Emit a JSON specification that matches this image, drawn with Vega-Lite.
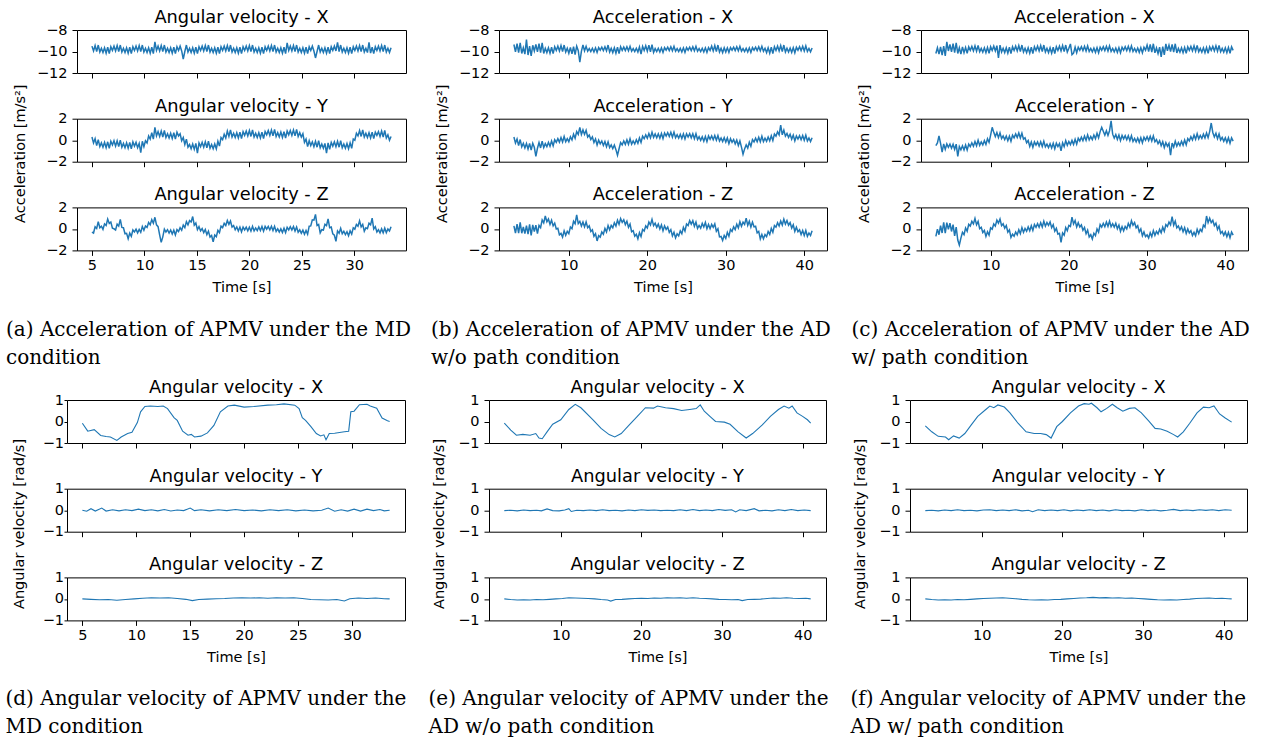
{
  "$schema": "https://vega.github.io/schema/vega-lite/v6.json",
  "background": "white",
  "padding": {"left": 5, "top": 8, "right": 5, "bottom": 2},
  "columns": 1,
  "align": "none",
  "spacing": 10,
  "concat": [
    {
      "spacing": 20,
      "hconcat": [
        {
          "bounds": "flush",
          "spacing": 0,
          "hconcat": [
            {"width": 10, "height": 10, "view": {"stroke": null}, "data": {"values": [{}]}, "mark": {"type": "text", "text": ""}},
            {
              "title": {"text": ["(a) Acceleration of APMV under the MD", "condition"], "orient": "bottom", "anchor": "start", "frame": "group", "dx": -71, "offset": 41, "baseline": "alphabetic", "align": "left", "font": "DejaVu Serif", "fontSize": 20, "lineHeight": 28},
              "bounds": "flush",
              "spacing": 45.7,
              "vconcat": [
                {"width": 329, "height": 43, "title": "Angular velocity - X", "data": {"name": "acc_a"}, "mark": {"type": "line", "strokeWidth": 1.5},
                 "encoding": {"x": {"field": "t", "type": "quantitative", "scale": {"domain": [3.575, 34.925], "nice": false, "zero": false}, "axis": {"values": [5, 10, 15, 20, 25, 30], "labels": false, "title": null}},
                              "y": {"field": "x", "type": "quantitative", "scale": {"domain": [-12, -8], "nice": false, "zero": false}, "axis": {"values": [-12, -10, -8], "title": "Acceleration [m/s²]", "titleX": -52.5, "titleY": 123.2}}}},
                {"width": 329, "height": 43, "title": "Angular velocity - Y", "data": {"name": "acc_a"}, "mark": {"type": "line", "strokeWidth": 1.5},
                 "encoding": {"x": {"field": "t", "type": "quantitative", "scale": {"domain": [3.575, 34.925], "nice": false, "zero": false}, "axis": {"values": [5, 10, 15, 20, 25, 30], "labels": false, "title": null}},
                              "y": {"field": "y", "type": "quantitative", "scale": {"domain": [-2, 2], "nice": false, "zero": false}, "axis": {"values": [-2, 0, 2], "title": null}}}},
                {"width": 329, "height": 43, "title": "Angular velocity - Z", "data": {"name": "acc_a"}, "mark": {"type": "line", "strokeWidth": 1.5},
                 "encoding": {"x": {"field": "t", "type": "quantitative", "scale": {"domain": [3.575, 34.925], "nice": false, "zero": false}, "axis": {"values": [5, 10, 15, 20, 25, 30], "title": "Time [s]"}},
                              "y": {"field": "z", "type": "quantitative", "scale": {"domain": [-2, 2], "nice": false, "zero": false}, "axis": {"values": [-2, 0, 2], "title": null}}}}
              ]
            }
          ]
        },
        {
          "title": {"text": ["(b) Acceleration of APMV under the AD", "w/o path condition"], "orient": "bottom", "anchor": "start", "frame": "group", "dx": -68, "offset": 41, "baseline": "alphabetic", "align": "left", "font": "DejaVu Serif", "fontSize": 20, "lineHeight": 28},
          "bounds": "flush",
          "spacing": 45.7,
          "vconcat": [
            {"width": 328, "height": 43, "title": "Acceleration - X", "data": {"name": "acc_b"}, "mark": {"type": "line", "strokeWidth": 1.5},
             "encoding": {"x": {"field": "t", "type": "quantitative", "scale": {"domain": [1.1, 42.9], "nice": false, "zero": false}, "axis": {"values": [10, 20, 30, 40], "labels": false, "title": null}},
                          "y": {"field": "x", "type": "quantitative", "scale": {"domain": [-12, -8], "nice": false, "zero": false}, "axis": {"values": [-12, -10, -8], "title": "Acceleration [m/s²]", "titleX": -53, "titleY": 123.2}}}},
            {"width": 328, "height": 43, "title": "Acceleration - Y", "data": {"name": "acc_b"}, "mark": {"type": "line", "strokeWidth": 1.5},
             "encoding": {"x": {"field": "t", "type": "quantitative", "scale": {"domain": [1.1, 42.9], "nice": false, "zero": false}, "axis": {"values": [10, 20, 30, 40], "labels": false, "title": null}},
                          "y": {"field": "y", "type": "quantitative", "scale": {"domain": [-2, 2], "nice": false, "zero": false}, "axis": {"values": [-2, 0, 2], "title": null}}}},
            {"width": 328, "height": 43, "title": "Acceleration - Z", "data": {"name": "acc_b"}, "mark": {"type": "line", "strokeWidth": 1.5},
             "encoding": {"x": {"field": "t", "type": "quantitative", "scale": {"domain": [1.1, 42.9], "nice": false, "zero": false}, "axis": {"values": [10, 20, 30, 40], "title": "Time [s]"}},
                          "y": {"field": "z", "type": "quantitative", "scale": {"domain": [-2, 2], "nice": false, "zero": false}, "axis": {"values": [-2, 0, 2], "title": null}}}}
          ]
        },
        {
          "title": {"text": ["(c) Acceleration of APMV under the AD", "w/ path condition"], "orient": "bottom", "anchor": "start", "frame": "group", "dx": -69.5, "offset": 41, "baseline": "alphabetic", "align": "left", "font": "DejaVu Serif", "fontSize": 20, "lineHeight": 28},
          "bounds": "flush",
          "spacing": 45.7,
          "vconcat": [
            {"width": 327, "height": 43, "title": "Acceleration - X", "data": {"name": "acc_c"}, "mark": {"type": "line", "strokeWidth": 1.5},
             "encoding": {"x": {"field": "t", "type": "quantitative", "scale": {"domain": [1.1, 42.9], "nice": false, "zero": false}, "axis": {"values": [10, 20, 30, 40], "labels": false, "title": null}},
                          "y": {"field": "x", "type": "quantitative", "scale": {"domain": [-12, -8], "nice": false, "zero": false}, "axis": {"values": [-12, -10, -8], "title": "Acceleration [m/s²]", "titleX": -53, "titleY": 123.2}}}},
            {"width": 327, "height": 43, "title": "Acceleration - Y", "data": {"name": "acc_c"}, "mark": {"type": "line", "strokeWidth": 1.5},
             "encoding": {"x": {"field": "t", "type": "quantitative", "scale": {"domain": [1.1, 42.9], "nice": false, "zero": false}, "axis": {"values": [10, 20, 30, 40], "labels": false, "title": null}},
                          "y": {"field": "y", "type": "quantitative", "scale": {"domain": [-2, 2], "nice": false, "zero": false}, "axis": {"values": [-2, 0, 2], "title": null}}}},
            {"width": 327, "height": 43, "title": "Acceleration - Z", "data": {"name": "acc_c"}, "mark": {"type": "line", "strokeWidth": 1.5},
             "encoding": {"x": {"field": "t", "type": "quantitative", "scale": {"domain": [1.1, 42.9], "nice": false, "zero": false}, "axis": {"values": [10, 20, 30, 40], "title": "Time [s]"}},
                          "y": {"field": "z", "type": "quantitative", "scale": {"domain": [-2, 2], "nice": false, "zero": false}, "axis": {"values": [-2, 0, 2], "title": null}}}}
          ]
        }
      ]
    },
    {
      "spacing": 21,
      "hconcat": [
        {
          "title": {"text": ["(d) Angular velocity of APMV under the", "MD condition"], "orient": "bottom", "anchor": "start", "frame": "group", "dx": -61.5, "offset": 40, "baseline": "alphabetic", "align": "left", "font": "DejaVu Serif", "fontSize": 20, "lineHeight": 28},
          "bounds": "flush",
          "spacing": 45.7,
          "vconcat": [
            {"width": 338, "height": 43, "title": "Angular velocity - X", "data": {"name": "d_x"}, "mark": {"type": "line", "strokeWidth": 1.1},
             "encoding": {"x": {"field": "t", "type": "quantitative", "scale": {"domain": [3.575, 34.925], "nice": false, "zero": false}, "axis": {"values": [5, 10, 15, 20, 25, 30], "labels": false, "title": null}},
                          "y": {"field": "v", "type": "quantitative", "scale": {"domain": [-1, 1], "nice": false, "zero": false}, "axis": {"values": [-1, 0, 1], "title": "Angular velocity [rad/s]", "titleX": -43.3, "titleY": 123.5, "tickSize": 3, "labelPadding": 0.5}}}},
            {"width": 338, "height": 43, "title": "Angular velocity - Y", "data": {"name": "d_y"}, "mark": {"type": "line", "strokeWidth": 1.1},
             "encoding": {"x": {"field": "t", "type": "quantitative", "scale": {"domain": [3.575, 34.925], "nice": false, "zero": false}, "axis": {"values": [5, 10, 15, 20, 25, 30], "labels": false, "title": null}},
                          "y": {"field": "v", "type": "quantitative", "scale": {"domain": [-1, 1], "nice": false, "zero": false}, "axis": {"values": [-1, 0, 1], "title": null, "tickSize": 3, "labelPadding": 0.5}}}},
            {"width": 338, "height": 43, "title": "Angular velocity - Z", "data": {"name": "d_z"}, "mark": {"type": "line", "strokeWidth": 1.1},
             "encoding": {"x": {"field": "t", "type": "quantitative", "scale": {"domain": [3.575, 34.925], "nice": false, "zero": false}, "axis": {"values": [5, 10, 15, 20, 25, 30], "title": "Time [s]"}},
                          "y": {"field": "v", "type": "quantitative", "scale": {"domain": [-1, 1], "nice": false, "zero": false}, "axis": {"values": [-1, 0, 1], "title": null, "tickSize": 3, "labelPadding": 0.5}}}}
          ]
        },
        {
          "title": {"text": ["(e) Angular velocity of APMV under the", "AD w/o path condition"], "orient": "bottom", "anchor": "start", "frame": "group", "dx": -60.5, "offset": 40, "baseline": "alphabetic", "align": "left", "font": "DejaVu Serif", "fontSize": 20, "lineHeight": 28},
          "bounds": "flush",
          "spacing": 45.7,
          "vconcat": [
            {"width": 337, "height": 43, "title": "Angular velocity - X", "data": {"name": "e_x"}, "mark": {"type": "line", "strokeWidth": 1.1},
             "encoding": {"x": {"field": "t", "type": "quantitative", "scale": {"domain": [1.1, 42.9], "nice": false, "zero": false}, "axis": {"values": [10, 20, 30, 40], "labels": false, "title": null}},
                          "y": {"field": "v", "type": "quantitative", "scale": {"domain": [-1, 1], "nice": false, "zero": false}, "axis": {"values": [-1, 0, 1], "title": "Angular velocity [rad/s]", "titleX": -45.7, "titleY": 123.5}}}},
            {"width": 337, "height": 43, "title": "Angular velocity - Y", "data": {"name": "e_y"}, "mark": {"type": "line", "strokeWidth": 1.1},
             "encoding": {"x": {"field": "t", "type": "quantitative", "scale": {"domain": [1.1, 42.9], "nice": false, "zero": false}, "axis": {"values": [10, 20, 30, 40], "labels": false, "title": null}},
                          "y": {"field": "v", "type": "quantitative", "scale": {"domain": [-1, 1], "nice": false, "zero": false}, "axis": {"values": [-1, 0, 1], "title": null}}}},
            {"width": 337, "height": 43, "title": "Angular velocity - Z", "data": {"name": "e_z"}, "mark": {"type": "line", "strokeWidth": 1.1},
             "encoding": {"x": {"field": "t", "type": "quantitative", "scale": {"domain": [1.1, 42.9], "nice": false, "zero": false}, "axis": {"values": [10, 20, 30, 40], "title": "Time [s]"}},
                          "y": {"field": "v", "type": "quantitative", "scale": {"domain": [-1, 1], "nice": false, "zero": false}, "axis": {"values": [-1, 0, 1], "title": null}}}}
          ]
        },
        {
          "title": {"text": ["(f) Angular velocity of APMV under the", "AD w/ path condition"], "orient": "bottom", "anchor": "start", "frame": "group", "dx": -59.5, "offset": 40, "baseline": "alphabetic", "align": "left", "font": "DejaVu Serif", "fontSize": 20, "lineHeight": 28},
          "bounds": "flush",
          "spacing": 45.7,
          "vconcat": [
            {"width": 337, "height": 43, "title": "Angular velocity - X", "data": {"name": "f_x"}, "mark": {"type": "line", "strokeWidth": 1.1},
             "encoding": {"x": {"field": "t", "type": "quantitative", "scale": {"domain": [1.1, 42.9], "nice": false, "zero": false}, "axis": {"values": [10, 20, 30, 40], "labels": false, "title": null}},
                          "y": {"field": "v", "type": "quantitative", "scale": {"domain": [-1, 1], "nice": false, "zero": false}, "axis": {"values": [-1, 0, 1], "title": "Angular velocity [rad/s]", "titleX": -45.3, "titleY": 123.5}}}},
            {"width": 337, "height": 43, "title": "Angular velocity - Y", "data": {"name": "f_y"}, "mark": {"type": "line", "strokeWidth": 1.1},
             "encoding": {"x": {"field": "t", "type": "quantitative", "scale": {"domain": [1.1, 42.9], "nice": false, "zero": false}, "axis": {"values": [10, 20, 30, 40], "labels": false, "title": null}},
                          "y": {"field": "v", "type": "quantitative", "scale": {"domain": [-1, 1], "nice": false, "zero": false}, "axis": {"values": [-1, 0, 1], "title": null}}}},
            {"width": 337, "height": 43, "title": "Angular velocity - Z", "data": {"name": "f_z"}, "mark": {"type": "line", "strokeWidth": 1.1},
             "encoding": {"x": {"field": "t", "type": "quantitative", "scale": {"domain": [1.1, 42.9], "nice": false, "zero": false}, "axis": {"values": [10, 20, 30, 40], "title": "Time [s]"}},
                          "y": {"field": "v", "type": "quantitative", "scale": {"domain": [-1, 1], "nice": false, "zero": false}, "axis": {"values": [-1, 0, 1], "title": null}}}}
          ]
        }
      ]
    }
  ],
  "datasets": {
    "acc_a": [
      {"t":5,"x":-9.5,"y":0.3,"z":-0.29},{"t":5.15,"x":-9.95,"y":-0.25,"z":-0.38},{"t":5.3,"x":-9.45,"y":0.15,"z":0.2},{"t":5.45,"x":-10,"y":-0.5,"z":0.04},{"t":5.6,"x":-9.4,"y":0.05,"z":0.68},{"t":5.75,"x":-10.05,"y":-0.6,"z":0.11},{"t":5.9,"x":-9.7,"y":-0.25,"z":0.25},{"t":6.05,"x":-10.1,"y":-0.65,"z":-0.04},{"t":6.2,"x":-9.65,"y":-0.2,"z":0.47},{"t":6.35,"x":-10.15,"y":-0.7,"z":0.32},
      {"t":6.5,"x":-9.6,"y":-0.15,"z":0.91},{"t":6.65,"x":-10.2,"y":-0.75,"z":0.51},{"t":6.8,"x":-9.55,"y":-0.1,"z":0.64},{"t":6.95,"x":-9.9,"y":-0.45,"z":0.06},{"t":7.1,"x":-9.5,"y":-0.05,"z":0.01},{"t":7.25,"x":-9.95,"y":-0.55,"z":-0.1},{"t":7.4,"x":-9.45,"y":-0.05,"z":0.45},{"t":7.55,"x":-10,"y":-0.6,"z":0.26},{"t":7.7,"x":-9.4,"y":0,"z":0.88},{"t":7.85,"x":-10.05,"y":-0.65,"z":0.14},
      {"t":8,"x":-9.7,"y":-0.3,"z":0.11},{"t":8.15,"x":-10.1,"y":-0.7,"z":-0.45},{"t":8.3,"x":-9.65,"y":-0.25,"z":-0.41},{"t":8.45,"x":-10.15,"y":-0.75,"z":-0.91},{"t":8.6,"x":-9.6,"y":-0.2,"z":-0.39},{"t":8.75,"x":-10.2,"y":-0.8,"z":-0.69},{"t":8.9,"x":-9.55,"y":-0.15,"z":-0.1},{"t":9.05,"x":-9.9,"y":-0.55,"z":-0.28},{"t":9.2,"x":-9.5,"y":-0.2,"z":-0.03},{"t":9.35,"x":-9.95,"y":-0.7,"z":-0.37},
      {"t":9.5,"x":-9.45,"y":-0.3,"z":-0.05},{"t":9.65,"x":-10,"y":-1.15,"z":-0.32},{"t":9.8,"x":-9.4,"y":-0.1,"z":0.22},{"t":9.95,"x":-10.05,"y":-0.6,"z":-0.12},{"t":10.1,"x":-9.7,"y":-0.05,"z":0.27},{"t":10.25,"x":-10.1,"y":-0.25,"z":0.14},{"t":10.4,"x":-9.65,"y":0.4,"z":0.6},{"t":10.55,"x":-10.15,"y":0.1,"z":0.38},{"t":10.7,"x":-9.6,"y":0.7,"z":0.86},{"t":10.85,"x":-10.2,"y":0.1,"z":0.53},
      {"t":11,"x":-9.1,"y":1.2,"z":1.08},{"t":11.15,"x":-9.9,"y":0.4,"z":0.38},{"t":11.3,"x":-9.5,"y":0.8,"z":0.21},{"t":11.45,"x":-9.95,"y":0.35,"z":-0.55},{"t":11.6,"x":-9.45,"y":0.85,"z":-1.25},{"t":11.75,"x":-10,"y":0.3,"z":-0.74},{"t":11.9,"x":-9.4,"y":0.9,"z":-0.02},{"t":12.05,"x":-10.05,"y":0.25,"z":-0.29},{"t":12.2,"x":-9.7,"y":0.6,"z":-0.07},{"t":12.35,"x":-10.1,"y":0.2,"z":-0.38},
      {"t":12.5,"x":-9.65,"y":0.65,"z":-0.1},{"t":12.65,"x":-10.15,"y":0.15,"z":-0.48},{"t":12.8,"x":-9.6,"y":0.7,"z":-0.12},{"t":12.95,"x":-10.2,"y":0.1,"z":-0.57},{"t":13.1,"x":-9.55,"y":0.75,"z":-0.07},{"t":13.25,"x":-9.9,"y":0.4,"z":-0.25},{"t":13.4,"x":-9.5,"y":0.6,"z":0.11},{"t":13.55,"x":-9.95,"y":-0.05,"z":-0.13},{"t":13.7,"x":-10.7,"y":0.25,"z":0.35},{"t":13.85,"x":-10,"y":-0.4,"z":0.11},
      {"t":14,"x":-9.4,"y":0.1,"z":0.68},{"t":14.15,"x":-10.05,"y":-0.65,"z":0.37},{"t":14.3,"x":-9.7,"y":-0.4,"z":0.77},{"t":14.45,"x":-10.1,"y":-0.8,"z":0.64},{"t":14.6,"x":-9.65,"y":-0.35,"z":1.15},{"t":14.75,"x":-10.15,"y":-0.85,"z":0.34},{"t":14.9,"x":-9.6,"y":-0.3,"z":0.54},{"t":15.05,"x":-10.2,"y":-1.2,"z":-0.07},{"t":15.2,"x":-9.55,"y":-0.25,"z":0.21},{"t":15.35,"x":-9.9,"y":-0.6,"z":-0.19},
      {"t":15.5,"x":-9.5,"y":-0.2,"z":0.03},{"t":15.65,"x":-9.95,"y":-0.65,"z":-0.34},{"t":15.8,"x":-9.45,"y":-0.15,"z":-0.05},{"t":15.95,"x":-10,"y":-0.7,"z":-0.53},{"t":16.1,"x":-9.4,"y":-0.1,"z":-0.21},{"t":16.25,"x":-10.05,"y":-0.75,"z":-0.76},{"t":16.4,"x":-9.7,"y":-0.4,"z":-0.61},{"t":16.55,"x":-10.1,"y":-0.8,"z":-1.2},{"t":16.7,"x":-9.65,"y":-0.35,"z":-0.57},{"t":16.85,"x":-10.15,"y":-0.8,"z":-0.72},
      {"t":17,"x":-9.6,"y":-0.1,"z":-0.13},{"t":17.15,"x":-10.2,"y":-0.55,"z":-0.35},{"t":17.3,"x":-9.55,"y":0.25,"z":0.26},{"t":17.45,"x":-9.9,"y":0.05,"z":0.12},{"t":17.6,"x":-9.5,"y":0.55,"z":0.51},{"t":17.75,"x":-9.95,"y":0.2,"z":0.31},{"t":17.9,"x":-9.45,"y":0.85,"z":0.78},{"t":18.05,"x":-10,"y":0.35,"z":0.42},{"t":18.2,"x":-9.4,"y":0.95,"z":0.74},{"t":18.35,"x":-10.05,"y":0.3,"z":0.17},
      {"t":18.5,"x":-9.7,"y":0.65,"z":0.31},{"t":18.65,"x":-10.1,"y":0.25,"z":-0.07},{"t":18.8,"x":-9.65,"y":0.7,"z":0.18},{"t":18.95,"x":-10.15,"y":0.2,"z":-0.2},{"t":19.1,"x":-9.6,"y":0.75,"z":0.17},{"t":19.25,"x":-10.2,"y":0.15,"z":-0.27},{"t":19.4,"x":-9.55,"y":0.8,"z":0.17},{"t":19.55,"x":-9.9,"y":0.45,"z":-0.1},{"t":19.7,"x":-9.5,"y":0.85,"z":0.16},{"t":19.85,"x":-9.95,"y":0.4,"z":-0.18},
      {"t":20,"x":-9.45,"y":0.9,"z":0.15},{"t":20.15,"x":-10,"y":0.35,"z":-0.21},{"t":20.3,"x":-9.4,"y":0.95,"z":0.24},{"t":20.45,"x":-10.05,"y":0.3,"z":-0.19},{"t":20.6,"x":-9.7,"y":0.65,"z":0.09},{"t":20.75,"x":-10.1,"y":0.25,"z":-0.16},{"t":20.9,"x":-9.65,"y":0.7,"z":0.18},{"t":21.05,"x":-10.15,"y":0.2,"z":-0.15},{"t":21.2,"x":-9.6,"y":0.75,"z":0.22},{"t":21.35,"x":-10.2,"y":0.15,"z":-0.21},
      {"t":21.5,"x":-9.55,"y":0.8,"z":0.23},{"t":21.65,"x":-9.9,"y":0.5,"z":-0.03},{"t":21.8,"x":-9.5,"y":0.9,"z":0.23},{"t":21.95,"x":-9.95,"y":0.45,"z":-0.1},{"t":22.1,"x":-9.45,"y":0.95,"z":0.24},{"t":22.25,"x":-10,"y":0.4,"z":-0.16},{"t":22.4,"x":-9.4,"y":1,"z":0.24},{"t":22.55,"x":-10.05,"y":0.35,"z":-0.23},{"t":22.7,"x":-9.7,"y":0.7,"z":0},{"t":22.85,"x":-10.1,"y":0.3,"z":-0.3},
      {"t":23,"x":-9.65,"y":0.75,"z":0},{"t":23.15,"x":-10.15,"y":0.25,"z":-0.34},{"t":23.3,"x":-9.6,"y":0.8,"z":0.06},{"t":23.45,"x":-10.2,"y":0.2,"z":-0.34},{"t":23.6,"x":-9.2,"y":0.85,"z":0.14},{"t":23.75,"x":-9.9,"y":0.5,"z":-0.09},{"t":23.9,"x":-9.5,"y":0.9,"z":0.2},{"t":24.05,"x":-9.95,"y":0.45,"z":-0.1},{"t":24.2,"x":-9.45,"y":0.95,"z":0.22},{"t":24.35,"x":-10,"y":0.4,"z":-0.2},
      {"t":24.5,"x":-9.4,"y":1,"z":0.18},{"t":24.65,"x":-10.05,"y":0.35,"z":-0.31},{"t":24.8,"x":-9.7,"y":0.7,"z":-0.09},{"t":24.95,"x":-10.1,"y":0.3,"z":-0.4},{"t":25.1,"x":-9.65,"y":0.6,"z":-0.12},{"t":25.25,"x":-10.15,"y":-0.2,"z":-0.5},{"t":25.4,"x":-9.6,"y":0.1,"z":-0.14},{"t":25.55,"x":-10.2,"y":-0.6,"z":-0.49},{"t":25.7,"x":-9.55,"y":-0.05,"z":0.25},{"t":25.85,"x":-9.9,"y":-0.5,"z":0.28},
      {"t":26,"x":-9.5,"y":-0.15,"z":0.84},{"t":26.15,"x":-9.95,"y":-0.6,"z":0.81},{"t":26.3,"x":-10.6,"y":-0.1,"z":1.35},{"t":26.45,"x":-10,"y":-0.65,"z":0.32},{"t":26.6,"x":-9.4,"y":-0.05,"z":0.41},{"t":26.75,"x":-10.05,"y":-0.7,"z":-0.37},{"t":26.9,"x":-9.7,"y":-0.35,"z":-0.07},{"t":27.05,"x":-10.1,"y":-0.75,"z":-0.11},{"t":27.2,"x":-9.65,"y":-0.3,"z":0.43},{"t":27.35,"x":-10.15,"y":-1.2,"z":0.31},
      {"t":27.5,"x":-9.6,"y":-0.25,"z":0.94},{"t":27.65,"x":-10.2,"y":-0.85,"z":0.12},{"t":27.8,"x":-9.55,"y":-0.2,"z":0.18},{"t":27.95,"x":-9.9,"y":-0.55,"z":-0.47},{"t":28.1,"x":-9.5,"y":-0.15,"z":-0.59},{"t":28.25,"x":-9.95,"y":-0.6,"z":-1.15},{"t":28.4,"x":-9.15,"y":-0.1,"z":-0.19},{"t":28.55,"x":-10,"y":-0.65,"z":-0.4},{"t":28.7,"x":-9.4,"y":-0.05,"z":0.06},{"t":28.85,"x":-10.05,"y":-0.7,"z":-0.44},
      {"t":29,"x":-9.7,"y":-0.35,"z":-0.22},{"t":29.15,"x":-10.1,"y":-0.75,"z":-0.53},{"t":29.3,"x":-9.65,"y":-0.3,"z":-0.26},{"t":29.45,"x":-10.15,"y":-0.8,"z":-0.64},{"t":29.6,"x":-9.6,"y":-0.25,"z":-0.18},{"t":29.75,"x":-10.2,"y":-0.75,"z":-0.48},{"t":29.9,"x":-9.55,"y":0.1,"z":0.1},{"t":30.05,"x":-9.9,"y":0,"z":-0.02},{"t":30.2,"x":-9.5,"y":0.65,"z":0.41},{"t":30.35,"x":-9.95,"y":0.4,"z":0.25},
      {"t":30.5,"x":-9.45,"y":0.9,"z":0.75},{"t":30.65,"x":-10,"y":0.35,"z":0.18},{"t":30.8,"x":-9.4,"y":0.95,"z":0.42},{"t":30.95,"x":-10.05,"y":0.3,"z":-0.22},{"t":31.1,"x":-9.7,"y":0.65,"z":0.1},{"t":31.25,"x":-10.1,"y":0.25,"z":0.02},{"t":31.4,"x":-9.15,"y":0.7,"z":0.53},{"t":31.55,"x":-10.15,"y":0.2,"z":0.38},{"t":31.7,"x":-9.6,"y":0.75,"z":1},{"t":31.85,"x":-10.2,"y":0.15,"z":0},
      {"t":32,"x":-9.55,"y":0.75,"z":0.21},{"t":32.15,"x":-9.9,"y":0.45,"z":-0.29},{"t":32.3,"x":-9.5,"y":0.8,"z":-0.08},{"t":32.45,"x":-9.95,"y":0.35,"z":-0.37},{"t":32.6,"x":-9.45,"y":0.85,"z":0},{"t":32.75,"x":-10,"y":0.3,"z":-0.37},{"t":32.9,"x":-9.4,"y":0.9,"z":0.07},{"t":33.05,"x":-10.05,"y":0.2,"z":-0.35},{"t":33.2,"x":-9.7,"y":0.5,"z":-0.01},{"t":33.35,"x":-10.1,"y":0,"z":-0.2},
      {"t":33.5,"x":-9.65,"y":0.35,"z":0.2}
    ],
    "acc_b": [
      {"t":3,"x":-9.35,"y":0.3,"z":0.28},{"t":3.2,"x":-10.03,"y":-0.27,"z":-0.4},{"t":3.4,"x":-9.27,"y":0.11,"z":0.44},{"t":3.6,"x":-10.1,"y":-0.51,"z":-0.4},{"t":3.8,"x":-9.2,"y":0.06,"z":0.6},{"t":4,"x":-10.18,"y":-0.62,"z":-0.4},{"t":4.2,"x":-9.65,"y":-0.29,"z":0.18},{"t":4.4,"x":-10.25,"y":-0.72,"z":-0.44},{"t":4.6,"x":-8.9,"y":-0.3,"z":0.3},{"t":4.8,"x":-10.33,"y":-0.82,"z":-0.48},
      {"t":5,"x":-9.5,"y":-0.3,"z":0.42},{"t":5.2,"x":-10.4,"y":-0.92,"z":-0.6},{"t":5.4,"x":-9.42,"y":-0.29,"z":0.38},{"t":5.6,"x":-9.95,"y":-0.66,"z":-0.24},{"t":5.8,"x":-9.35,"y":-1.5,"z":0.34},{"t":6,"x":-10.03,"y":-0.75,"z":-0.44},{"t":6.2,"x":-9.27,"y":-0.21,"z":0.32},{"t":6.4,"x":-10.1,"y":-0.72,"z":0.12},{"t":6.6,"x":-9.2,"y":-0.08,"z":0.84},{"t":6.8,"x":-10.18,"y":-0.69,"z":0.56},
      {"t":7,"x":-9.7,"y":-0.32,"z":1.2},{"t":7.2,"x":-10.1,"y":-0.6,"z":0.66},{"t":7.4,"x":-9.65,"y":-0.2,"z":0.92},{"t":7.6,"x":-10.15,"y":-0.56,"z":0.42},{"t":7.8,"x":-9.6,"y":-0.08,"z":0.81},{"t":8,"x":-10.2,"y":-0.52,"z":0.28},{"t":8.2,"x":-9.55,"y":0.04,"z":0.54},{"t":8.4,"x":-9.9,"y":-0.2,"z":0},{"t":8.6,"x":-9.5,"y":0.15,"z":0.06},{"t":8.8,"x":-9.95,"y":-0.18,"z":-0.56},
      {"t":9,"x":-9.45,"y":0.25,"z":-0.42},{"t":9.2,"x":-10,"y":-0.17,"z":-0.76},{"t":9.4,"x":-9.4,"y":0.34,"z":-0.18},{"t":9.6,"x":-10.05,"y":-0.15,"z":-0.6},{"t":9.8,"x":-9.7,"y":0.15,"z":-0.22},{"t":10,"x":-10.16,"y":-0.14,"z":-0.44},{"t":10.2,"x":-9.62,"y":0.32,"z":0.17},{"t":10.4,"x":-10.22,"y":0.02,"z":0.02},{"t":10.6,"x":-9.56,"y":0.56,"z":0.71},{"t":10.8,"x":-10.28,"y":0.18,"z":0.48},
      {"t":11,"x":-9.5,"y":0.8,"z":1.3},{"t":11.2,"x":-9.92,"y":0.54,"z":0.49},{"t":11.4,"x":-11,"y":1.2,"z":0.7},{"t":11.6,"x":-9.98,"y":0.54,"z":0.27},{"t":11.8,"x":-9.38,"y":0.96,"z":0.65},{"t":12,"x":-9.94,"y":0.54,"z":0.19},{"t":12.2,"x":-9.52,"y":0.92,"z":0.65},{"t":12.4,"x":-9.98,"y":0.3,"z":0.11},{"t":12.6,"x":-9.73,"y":0.48,"z":0.28},{"t":12.8,"x":-10.01,"y":0.06,"z":-0.24},
      {"t":13,"x":-9.7,"y":0.31,"z":-0.08},{"t":13.2,"x":-10.05,"y":-0.21,"z":-0.68},{"t":13.4,"x":-9.66,"y":0.12,"z":-0.44},{"t":13.6,"x":-10.08,"y":-0.45,"z":-1.12},{"t":13.8,"x":-9.63,"y":0.01,"z":-0.63},{"t":14,"x":-9.87,"y":-0.33,"z":-0.76},{"t":14.2,"x":-9.59,"y":-0.07,"z":-0.29},{"t":14.4,"x":-9.91,"y":-0.49,"z":-0.5},{"t":14.6,"x":-9.56,"y":-0.13,"z":0.04},{"t":14.8,"x":-9.94,"y":-0.6,"z":-0.28},
      {"t":15,"x":-9.4,"y":-0.15,"z":0.32},{"t":15.2,"x":-10.05,"y":-0.69,"z":-0.08},{"t":15.4,"x":-9.7,"y":-0.44,"z":0.32},{"t":15.6,"x":-10.1,"y":-0.79,"z":0.11},{"t":15.8,"x":-9.65,"y":-0.45,"z":0.57},{"t":16,"x":-10.15,"y":-0.88,"z":0.27},{"t":16.2,"x":-9.6,"y":-1.4,"z":0.81},{"t":16.4,"x":-10.2,"y":-0.8,"z":0.43},{"t":16.6,"x":-9.55,"y":-0.22,"z":0.96},{"t":16.8,"x":-9.9,"y":-0.44,"z":0.6},
      {"t":17,"x":-9.59,"y":-0.06,"z":0.84},{"t":17.2,"x":-9.91,"y":-0.39,"z":0.4},{"t":17.4,"x":-9.56,"y":0.03,"z":0.72},{"t":17.6,"x":-9.94,"y":-0.38,"z":0.15},{"t":17.8,"x":-9.52,"y":0.13,"z":0.45},{"t":18,"x":-9.98,"y":-0.37,"z":-0.26},{"t":18.2,"x":-9.73,"y":-0.06,"z":-0.16},{"t":18.4,"x":-10.01,"y":-0.35,"z":-0.67},{"t":18.6,"x":-9.7,"y":0.05,"z":-0.49},{"t":18.8,"x":-10.05,"y":-0.29,"z":-0.92},
      {"t":19,"x":-9.58,"y":0.21,"z":-0.35},{"t":19.2,"x":-10.24,"y":-0.21,"z":-0.71},{"t":19.4,"x":-9.52,"y":0.37,"z":-0.06},{"t":19.6,"x":-9.91,"y":0.14,"z":-0.2},{"t":19.8,"x":-9.47,"y":0.5,"z":0.28},{"t":20,"x":-9.97,"y":0.18,"z":0.08},{"t":20.2,"x":-9.41,"y":0.62,"z":0.64},{"t":20.4,"x":-10.02,"y":0.22,"z":0.36},{"t":20.6,"x":-9.36,"y":0.74,"z":0.89},{"t":20.8,"x":-10.08,"y":0.26,"z":0.31},
      {"t":21,"x":-9.73,"y":0.58,"z":0.53},{"t":21.2,"x":-10.01,"y":0.23,"z":0.15},{"t":21.4,"x":-9.7,"y":0.59,"z":0.45},{"t":21.6,"x":-10.05,"y":0.19,"z":-0.01},{"t":21.8,"x":-9.66,"y":0.63,"z":0.37},{"t":22,"x":-10.08,"y":0.15,"z":-0.17},{"t":22.2,"x":-9.63,"y":0.67,"z":0.29},{"t":22.4,"x":-9.87,"y":0.39,"z":-0.05},{"t":22.6,"x":-9.59,"y":0.71,"z":0.17},{"t":22.8,"x":-9.91,"y":0.35,"z":-0.33},
      {"t":23,"x":-9.56,"y":0.73,"z":-0.07},{"t":23.2,"x":-9.94,"y":0.27,"z":-0.65},{"t":23.4,"x":-9.52,"y":0.75,"z":-0.31},{"t":23.6,"x":-9.98,"y":0.23,"z":-0.84},{"t":23.8,"x":-9.73,"y":0.51,"z":-0.45},{"t":24,"x":-10.01,"y":0.19,"z":-0.65},{"t":24.2,"x":-9.7,"y":0.55,"z":-0.18},{"t":24.4,"x":-10.05,"y":0.15,"z":-0.44},{"t":24.6,"x":-9.66,"y":0.59,"z":0.14},{"t":24.8,"x":-10.08,"y":0.11,"z":-0.2},
      {"t":25,"x":-9.63,"y":0.6,"z":0.45},{"t":25.2,"x":-9.87,"y":0.3,"z":0.31},{"t":25.4,"x":-9.59,"y":0.6,"z":0.77},{"t":25.6,"x":-9.91,"y":0.22,"z":0.44},{"t":25.8,"x":-9.56,"y":0.6,"z":0.76},{"t":26,"x":-9.94,"y":0.14,"z":0.24},{"t":26.2,"x":-9.52,"y":0.6,"z":0.64},{"t":26.4,"x":-9.98,"y":0.06,"z":0.04},{"t":26.6,"x":-9.73,"y":0.32,"z":0.32},{"t":26.8,"x":-10.01,"y":-0.02,"z":0.07},
      {"t":27,"x":-9.7,"y":0.32,"z":0.51},{"t":27.2,"x":-10.05,"y":-0.09,"z":0.18},{"t":27.4,"x":-9.66,"y":0.35,"z":0.6},{"t":27.6,"x":-10.08,"y":-0.13,"z":0.01},{"t":27.8,"x":-9.63,"y":0.39,"z":0.41},{"t":28,"x":-9.9,"y":0.08,"z":0.02},{"t":28.2,"x":-9.5,"y":0.4,"z":0.42},{"t":28.4,"x":-9.95,"y":0.04,"z":0.14},{"t":28.6,"x":-9.45,"y":0.44,"z":0.46},{"t":28.8,"x":-10,"y":0,"z":-0.22},
      {"t":29,"x":-9.4,"y":0.44,"z":0.02},{"t":29.2,"x":-10.05,"y":-0.08,"z":-0.74},{"t":29.4,"x":-9.7,"y":0.2,"z":-0.7},{"t":29.6,"x":-10.1,"y":-0.12,"z":-1.08},{"t":29.8,"x":-9.65,"y":0.24,"z":-0.6},{"t":30,"x":-10.05,"y":-0.18,"z":-0.88},{"t":30.2,"x":-9.66,"y":0.21,"z":-0.32},{"t":30.4,"x":-10.08,"y":-0.32,"z":-0.68},{"t":30.6,"x":-9.63,"y":0.14,"z":-0.05},{"t":30.8,"x":-9.87,"y":-0.19,"z":-0.23},
      {"t":31,"x":-9.59,"y":0.07,"z":0.19},{"t":31.2,"x":-9.91,"y":-0.34,"z":-0.07},{"t":31.4,"x":-9.56,"y":0.01,"z":0.43},{"t":31.6,"x":-9.94,"y":-0.49,"z":0.09},{"t":31.8,"x":-9.52,"y":-0.07,"z":0.67},{"t":32,"x":-9.98,"y":-0.65,"z":0.25},{"t":32.2,"x":-9.73,"y":-1.3,"z":0.63},{"t":32.4,"x":-10.01,"y":-0.81,"z":0.41},{"t":32.6,"x":-9.7,"y":-0.43,"z":1},{"t":32.8,"x":-10.05,"y":-0.73,"z":0.33},
      {"t":33,"x":-9.66,"y":-0.19,"z":0.71},{"t":33.2,"x":-10.08,"y":-0.57,"z":0.17},{"t":33.4,"x":-9.63,"y":0.05,"z":0.63},{"t":33.6,"x":-9.87,"y":-0.17,"z":0.19},{"t":33.8,"x":-9.59,"y":0.18,"z":0.25},{"t":34,"x":-9.91,"y":-0.15,"z":-0.37},{"t":34.2,"x":-9.56,"y":0.27,"z":-0.23},{"t":34.4,"x":-9.94,"y":-0.14,"z":-0.93},{"t":34.6,"x":-9.52,"y":0.37,"z":-0.52},{"t":34.8,"x":-9.98,"y":-0.13,"z":-0.92},
      {"t":35,"x":-9.7,"y":0.18,"z":-0.52},{"t":35.2,"x":-10.1,"y":-0.1,"z":-0.72},{"t":35.4,"x":-9.65,"y":0.3,"z":-0.24},{"t":35.6,"x":-10.15,"y":-0.06,"z":-0.52},{"t":35.8,"x":-9.6,"y":0.42,"z":0.04},{"t":36,"x":-10.2,"y":-0.02,"z":-0.32},{"t":36.2,"x":-9.55,"y":0.58,"z":0.32},{"t":36.4,"x":-9.9,"y":0.38,"z":0.16},{"t":36.6,"x":-9.5,"y":0.78,"z":0.57},{"t":36.8,"x":-9.95,"y":0.5,"z":0.27},
      {"t":37,"x":-9.45,"y":1.4,"z":0.73},{"t":37.2,"x":-10,"y":0.5,"z":0.36},{"t":37.4,"x":-9.4,"y":0.94,"z":0.9},{"t":37.6,"x":-10.05,"y":0.38,"z":0.44},{"t":37.8,"x":-9.7,"y":0.62,"z":0.78},{"t":38,"x":-10.04,"y":0.26,"z":0.35},{"t":38.2,"x":-9.68,"y":0.56,"z":0.59},{"t":38.4,"x":-10.08,"y":0.1,"z":0.08},{"t":38.6,"x":-9.64,"y":0.48,"z":0.39},{"t":38.8,"x":-10.12,"y":-0.06,"z":-0.23},
      {"t":39,"x":-9.6,"y":0.4,"z":0.15},{"t":39.2,"x":-9.88,"y":0.11,"z":-0.27},{"t":39.4,"x":-9.56,"y":0.42,"z":-0.09},{"t":39.6,"x":-9.92,"y":0.05,"z":-0.53},{"t":39.8,"x":-9.52,"y":0.44,"z":-0.15},{"t":40,"x":-9.96,"y":-0.01,"z":-0.61},{"t":40.2,"x":-9.48,"y":0.46,"z":-0.15},{"t":40.4,"x":-10,"y":-0.07,"z":-0.69},{"t":40.6,"x":-9.72,"y":0.2,"z":-0.38},{"t":40.8,"x":-10.04,"y":-0.13,"z":-0.62},
      {"t":41,"x":-9.68,"y":0.22,"z":-0.18}
    ],
    "acc_c": [
      {"t":3,"x":-10.18,"y":-0.5,"z":-0.7},{"t":3.2,"x":-9.65,"y":-0.26,"z":-0.02},{"t":3.4,"x":-10.25,"y":0.4,"z":-0.54},{"t":3.6,"x":-9.57,"y":-0.3,"z":0.3},{"t":3.8,"x":-10.33,"y":-1.1,"z":-0.38},{"t":4,"x":-9.5,"y":-0.34,"z":0.62},{"t":4.2,"x":-10.4,"y":-0.85,"z":-0.4},{"t":4.4,"x":-9.1,"y":-0.35,"z":0.58},{"t":4.6,"x":-9.95,"y":-0.66,"z":-0.04},{"t":4.8,"x":-9.35,"y":-0.37,"z":0.54},
      {"t":5,"x":-10.03,"y":-0.75,"z":-0.24},{"t":5.2,"x":-9.27,"y":-0.38,"z":0.4},{"t":5.4,"x":-10.1,"y":-0.85,"z":-0.64},{"t":5.6,"x":-9.2,"y":-0.37,"z":0.16},{"t":5.8,"x":-10.18,"y":-1.5,"z":-1.04},{"t":6,"x":-9.65,"y":-0.59,"z":-1.5},{"t":6.2,"x":-10.25,"y":-0.9,"z":-0.86},{"t":6.4,"x":-9.57,"y":-0.52,"z":-0.32},{"t":6.6,"x":-10.12,"y":-0.91,"z":-0.54},{"t":6.8,"x":-9.62,"y":-0.45,"z":0.08},
      {"t":7,"x":-10.16,"y":-0.92,"z":-0.22},{"t":7.2,"x":-9.57,"y":-0.36,"z":0.42},{"t":7.4,"x":-9.89,"y":-0.6,"z":0.26},{"t":7.6,"x":-9.53,"y":-0.24,"z":0.7},{"t":7.8,"x":-9.94,"y":-0.56,"z":0.46},{"t":8,"x":-9.48,"y":-0.12,"z":0.98},{"t":8.2,"x":-9.98,"y":-0.52,"z":0.38},{"t":8.4,"x":-9.44,"y":0,"z":0.7},{"t":8.6,"x":-10.03,"y":-0.48,"z":0.02},{"t":8.8,"x":-9.71,"y":-0.16,"z":0.14},
      {"t":9,"x":-10.07,"y":-0.44,"z":-0.34},{"t":9.2,"x":-9.66,"y":-0.04,"z":-0.14},{"t":9.4,"x":-10.12,"y":-0.4,"z":-0.7},{"t":9.6,"x":-9.62,"y":0.14,"z":-0.26},{"t":9.8,"x":-10.16,"y":-0.2,"z":-0.58},{"t":10,"x":-9.55,"y":0.48,"z":0.1},{"t":10.2,"x":-9.9,"y":1.2,"z":-0.02},{"t":10.4,"x":-9.5,"y":0.73,"z":0.46},{"t":10.6,"x":-9.95,"y":0.34,"z":0.26},{"t":10.8,"x":-9.45,"y":0.71,"z":0.82},
      {"t":11,"x":-10.6,"y":0.24,"z":0.54},{"t":11.2,"x":-9.4,"y":0.69,"z":0.92},{"t":11.4,"x":-10.05,"y":0.15,"z":0.3},{"t":11.6,"x":-9.7,"y":0.4,"z":0.48},{"t":11.8,"x":-10.1,"y":0.05,"z":0.06},{"t":12,"x":-9.65,"y":0.39,"z":0.32},{"t":12.2,"x":-10.15,"y":-0.04,"z":-0.31},{"t":12.4,"x":-9.6,"y":0.37,"z":-0.09},{"t":12.6,"x":-10.2,"y":-0.1,"z":-0.8},{"t":12.8,"x":-9.55,"y":0.46,"z":-0.5},
      {"t":13,"x":-9.9,"y":0.22,"z":-0.69},{"t":13.2,"x":-9.5,"y":0.58,"z":-0.29},{"t":13.4,"x":-9.95,"y":0.26,"z":-0.56},{"t":13.6,"x":-9.45,"y":0.67,"z":-0.08},{"t":13.8,"x":-10,"y":0.2,"z":-0.44},{"t":14,"x":-9.4,"y":0.65,"z":0.12},{"t":14.2,"x":-10.05,"y":0.1,"z":-0.32},{"t":14.4,"x":-9.7,"y":0.23,"z":0.04},{"t":14.6,"x":-10.1,"y":-0.24,"z":-0.22},{"t":14.8,"x":-9.65,"y":-0.03,"z":0.18},
      {"t":15,"x":-10.15,"y":-0.58,"z":-0.18},{"t":15.2,"x":-9.6,"y":-0.16,"z":0.3},{"t":15.4,"x":-10.2,"y":-0.66,"z":-0.14},{"t":15.6,"x":-9.55,"y":-0.16,"z":0.41},{"t":15.8,"x":-9.9,"y":-0.46,"z":0.15},{"t":16,"x":-9.5,"y":-0.16,"z":0.49},{"t":16.2,"x":-9.95,"y":-0.54,"z":0.15},{"t":16.4,"x":-9.45,"y":-0.14,"z":0.57},{"t":16.6,"x":-10,"y":-0.58,"z":0.17},{"t":16.8,"x":-9.4,"y":-0.1,"z":0.71},
      {"t":17,"x":-10.05,"y":-0.62,"z":0.25},{"t":17.2,"x":-9.7,"y":-0.37,"z":0.59},{"t":17.4,"x":-10.1,"y":-0.69,"z":0.33},{"t":17.6,"x":-9.65,"y":-0.33,"z":0.65},{"t":17.8,"x":-10.15,"y":-0.73,"z":0.11},{"t":18,"x":-9.6,"y":-0.29,"z":0.4},{"t":18.2,"x":-10.2,"y":-0.8,"z":-0.22},{"t":18.4,"x":-9.55,"y":-0.28,"z":0.05},{"t":18.6,"x":-9.9,"y":-0.6,"z":-0.48},{"t":18.8,"x":-9.5,"y":-0.32,"z":-0.41},
      {"t":19,"x":-9.95,"y":-1,"z":-1.25},{"t":19.2,"x":-9.45,"y":-0.24,"z":-0.38},{"t":19.4,"x":-10,"y":-0.6,"z":-0.58},{"t":19.6,"x":-9.4,"y":-0.04,"z":0.13},{"t":19.8,"x":-10.05,"y":-0.48,"z":-0.17},{"t":20,"x":-9.7,"y":-0.12,"z":0.33},{"t":20.2,"x":-9.3,"y":-0.41,"z":0.23},{"t":20.4,"x":-10.3,"y":-0.02,"z":1.1},{"t":20.6,"x":-10.15,"y":-0.39,"z":0.46},{"t":20.8,"x":-9.6,"y":0.08,"z":0.78},
      {"t":21,"x":-10.12,"y":-0.37,"z":0.18},{"t":21.2,"x":-9.6,"y":0.18,"z":0.58},{"t":21.4,"x":-9.88,"y":-0.07,"z":0.18},{"t":21.6,"x":-9.56,"y":0.28,"z":0.37},{"t":21.8,"x":-9.92,"y":-0.05,"z":-0.13},{"t":22,"x":-9.52,"y":0.38,"z":0.13},{"t":22.2,"x":-9.96,"y":-0.02,"z":-0.45},{"t":22.4,"x":-9.48,"y":0.5,"z":-0.11},{"t":22.6,"x":-10,"y":0.02,"z":-0.74},{"t":22.8,"x":-9.72,"y":0.34,"z":-0.54},
      {"t":23,"x":-10.04,"y":0.06,"z":-0.94},{"t":23.2,"x":-9.68,"y":0.48,"z":-0.4},{"t":23.4,"x":-10.08,"y":0.14,"z":-0.62},{"t":23.6,"x":-9.64,"y":0.64,"z":0},{"t":23.8,"x":-10.12,"y":0.22,"z":-0.3},{"t":24,"x":-9.6,"y":0.8,"z":0.4},{"t":24.2,"x":-9.88,"y":1.2,"z":0.16},{"t":24.4,"x":-9.56,"y":0.84,"z":0.52},{"t":24.6,"x":-9.92,"y":0.48,"z":0.2},{"t":24.8,"x":-9.52,"y":0.88,"z":0.64},
      {"t":25,"x":-9.96,"y":0.44,"z":0.24},{"t":25.2,"x":-9.48,"y":0.88,"z":0.72},{"t":25.4,"x":-10,"y":1.8,"z":0.2},{"t":25.6,"x":-9.72,"y":0.56,"z":0.48},{"t":25.8,"x":-10.04,"y":0.2,"z":0.16},{"t":26,"x":-9.68,"y":0.52,"z":0.52},{"t":26.2,"x":-10.08,"y":0.08,"z":0.02},{"t":26.4,"x":-9.64,"y":0.48,"z":0.36},{"t":26.6,"x":-10.12,"y":-0.04,"z":-0.22},{"t":26.8,"x":-9.6,"y":0.44,"z":0.2},
      {"t":27,"x":-9.88,"y":0.12,"z":-0.18},{"t":27.2,"x":-9.56,"y":0.42,"z":0.23},{"t":27.4,"x":-9.92,"y":0.04,"z":0},{"t":27.6,"x":-9.52,"y":0.42,"z":0.5},{"t":27.8,"x":-9.96,"y":-0.04,"z":0.17},{"t":28,"x":-9.48,"y":0.42,"z":0.76},{"t":28.2,"x":-10,"y":-0.12,"z":0.35},{"t":28.4,"x":-9.72,"y":0.16,"z":0.59},{"t":28.6,"x":-10.04,"y":-0.16,"z":0.1},{"t":28.8,"x":-9.68,"y":0.2,"z":0.29},
      {"t":29,"x":-10.08,"y":-0.2,"z":-0.28},{"t":29.2,"x":-9.64,"y":0.24,"z":0},{"t":29.4,"x":-10.12,"y":-0.24,"z":-0.64},{"t":29.6,"x":-9.6,"y":0.28,"z":-0.28},{"t":29.8,"x":-9.88,"y":0,"z":-0.72},{"t":30,"x":-9.41,"y":0.32,"z":-0.56},{"t":30.2,"x":-10,"y":-0.04,"z":-0.84},{"t":30.4,"x":-9.34,"y":0.36,"z":-0.36},{"t":30.6,"x":-10.06,"y":-0.08,"z":-0.72},{"t":30.8,"x":-9.28,"y":0.4,"z":-0.16},
      {"t":31,"x":-10.13,"y":-0.15,"z":-0.6},{"t":31.2,"x":-9.67,"y":0.06,"z":-0.24},{"t":31.4,"x":-10.19,"y":-0.33,"z":-0.48},{"t":31.6,"x":-9.6,"y":-0.04,"z":-0.04},{"t":31.8,"x":-10.5,"y":-0.51,"z":-0.36},{"t":32,"x":-9.54,"y":-0.14,"z":0.16},{"t":32.2,"x":-10.32,"y":-0.68,"z":-0.22},{"t":32.4,"x":-9.3,"y":-0.22,"z":0.4},{"t":32.6,"x":-9.93,"y":-0.56,"z":0.22},{"t":32.8,"x":-9.41,"y":-0.3,"z":0.64},
      {"t":33,"x":-10,"y":-1.4,"z":0.38},{"t":33.2,"x":-9.34,"y":-0.26,"z":1.15},{"t":33.4,"x":-10.06,"y":-0.64,"z":0.34},{"t":33.6,"x":-9.28,"y":-0.1,"z":0.72},{"t":33.8,"x":-10.13,"y":-0.56,"z":0.1},{"t":34,"x":-9.71,"y":-0.22,"z":0.28},{"t":34.2,"x":-10.07,"y":-0.5,"z":-0.1},{"t":34.4,"x":-9.66,"y":-0.1,"z":0.2},{"t":34.6,"x":-10.12,"y":-0.46,"z":-0.26},{"t":34.8,"x":-9.62,"y":0.02,"z":0.12},
      {"t":35,"x":-10.16,"y":-0.42,"z":-0.42},{"t":35.2,"x":-9.57,"y":0.16,"z":0},{"t":35.4,"x":-9.89,"y":-0.06,"z":-0.38},{"t":35.6,"x":-9.53,"y":0.32,"z":-0.16},{"t":35.8,"x":-9.94,"y":0.02,"z":-0.62},{"t":36,"x":-9.48,"y":0.48,"z":-0.32},{"t":36.2,"x":-9.98,"y":0.08,"z":-0.64},{"t":36.4,"x":-9.44,"y":0.6,"z":-0.04},{"t":36.6,"x":-10.03,"y":0.12,"z":-0.44},{"t":36.8,"x":-9.71,"y":0.44,"z":-0.04},
      {"t":37,"x":-10.07,"y":0.16,"z":-0.24},{"t":37.2,"x":-9.66,"y":0.56,"z":0.35},{"t":37.4,"x":-10.12,"y":0.2,"z":0.17},{"t":37.6,"x":-9.62,"y":0.68,"z":1.2},{"t":37.8,"x":-10.16,"y":0.24,"z":0.58},{"t":38,"x":-9.57,"y":0.8,"z":0.99},{"t":38.2,"x":-9.89,"y":1.6,"z":0.59},{"t":38.4,"x":-9.53,"y":0.72,"z":0.8},{"t":38.6,"x":-9.94,"y":0.3,"z":0.3},{"t":38.8,"x":-9.48,"y":0.64,"z":0.54},
      {"t":39,"x":-9.98,"y":0.14,"z":-0.06},{"t":39.2,"x":-9.44,"y":0.58,"z":0.26},{"t":39.4,"x":-10.03,"y":0.02,"z":-0.42},{"t":39.6,"x":-9.71,"y":0.26,"z":-0.24},{"t":39.8,"x":-10.07,"y":-0.1,"z":-0.6},{"t":40,"x":-9.66,"y":0.22,"z":-0.28},{"t":40.2,"x":-10.12,"y":-0.2,"z":-0.72},{"t":40.4,"x":-9.62,"y":0.22,"z":-0.32},{"t":40.6,"x":-10.16,"y":-0.28,"z":-0.82},{"t":40.8,"x":-9.57,"y":0.22,"z":-0.3},
      {"t":41,"x":-9.89,"y":-0.08,"z":-0.58}
    ],
    "d_x": [{"t":5,"v":-0.08},{"t":5.5,"v":-0.45},{"t":6.1,"v":-0.38},{"t":6.7,"v":-0.65},{"t":7.2,"v":-0.7},{"t":7.6,"v":-0.72},{"t":8.2,"v":-0.88},{"t":8.6,"v":-0.72},{"t":9.2,"v":-0.56},{"t":9.6,"v":-0.5},{"t":10.1,"v":-0.05},{"t":10.4,"v":0.45},{"t":10.8,"v":0.7},{"t":11.3,"v":0.72},{"t":12,"v":0.7},{"t":12.5,"v":0.72},{"t":12.9,"v":0.6},{"t":13.5,"v":0.18},{"t":13.8,"v":0.05},{"t":14.3,"v":-0.45},{"t":14.8,"v":-0.64},{"t":15.1,"v":-0.6},{"t":15.4,"v":-0.72},{"t":16,"v":-0.68},{"t":16.6,"v":-0.53},{"t":17.2,"v":-0.18},{"t":17.8,"v":0.45},{"t":18.5,"v":0.72},{"t":19.1,"v":0.76},{"t":20,"v":0.67},{"t":20.9,"v":0.7},{"t":22.2,"v":0.76},{"t":23,"v":0.78},{"t":23.7,"v":0.82},{"t":24.7,"v":0.76},{"t":25.1,"v":0.6},{"t":25.4,"v":0.18},{"t":25.7,"v":0.05},{"t":26.2,"v":-0.24},{"t":26.7,"v":-0.56},{"t":27.1,"v":-0.67},{"t":27.4,"v":-0.62},{"t":27.6,"v":-0.85},{"t":27.9,"v":-0.56},{"t":28.4,"v":-0.55},{"t":29.3,"v":-0.48},{"t":29.7,"v":-0.45},{"t":29.9,"v":0.45},{"t":30.2,"v":0.48},{"t":30.7,"v":0.78},{"t":31.4,"v":0.8},{"t":31.7,"v":0.72},{"t":32.3,"v":0.62},{"t":32.8,"v":0.16},{"t":33.3,"v":0.03},{"t":33.5,"v":0}],
    "d_y": [{"t":5,"v":0},{"t":5.4,"v":-0.05},{"t":5.8,"v":0.07},{"t":6.2,"v":-0.04},{"t":6.8,"v":0.1},{"t":7.2,"v":-0.04},{"t":7.8,"v":0.02},{"t":8.4,"v":-0.03},{"t":9,"v":0.02},{"t":9.6,"v":-0.02},{"t":10.2,"v":0.05},{"t":10.8,"v":-0.02},{"t":11.4,"v":0.02},{"t":12,"v":-0.03},{"t":12.6,"v":0.03},{"t":13.2,"v":-0.04},{"t":13.8,"v":0.01},{"t":14.4,"v":-0.02},{"t":15,"v":0.1},{"t":15.4,"v":-0.02},{"t":16,"v":0.02},{"t":16.8,"v":-0.03},{"t":17.6,"v":0.02},{"t":18.4,"v":-0.02},{"t":19.2,"v":0.03},{"t":20,"v":-0.02},{"t":20.8,"v":0.01},{"t":21.6,"v":-0.03},{"t":22.4,"v":0.02},{"t":23.2,"v":-0.02},{"t":24,"v":0.02},{"t":24.8,"v":-0.03},{"t":25.6,"v":0.01},{"t":26.4,"v":-0.03},{"t":27.2,"v":0},{"t":27.8,"v":0.1},{"t":28.4,"v":-0.05},{"t":29,"v":0.02},{"t":29.6,"v":-0.04},{"t":30.2,"v":0.05},{"t":30.8,"v":-0.04},{"t":31.4,"v":0.05},{"t":32,"v":-0.02},{"t":32.6,"v":0.03},{"t":33,"v":-0.03},{"t":33.5,"v":0}],
    "d_z": [{"t":5,"v":0},{"t":5.8,"v":-0.02},{"t":6.6,"v":-0.04},{"t":7.4,"v":-0.03},{"t":8.2,"v":-0.06},{"t":9,"v":-0.03},{"t":9.8,"v":0},{"t":10.6,"v":0.03},{"t":11.4,"v":0.05},{"t":12.2,"v":0.04},{"t":13,"v":0.05},{"t":13.8,"v":0.02},{"t":14.6,"v":-0.02},{"t":15.2,"v":-0.08},{"t":15.8,"v":-0.03},{"t":16.6,"v":-0.01},{"t":17.4,"v":0.01},{"t":18.2,"v":0.02},{"t":19,"v":0.04},{"t":19.8,"v":0.05},{"t":20.6,"v":0.04},{"t":21.4,"v":0.05},{"t":22.2,"v":0.03},{"t":23,"v":0.05},{"t":23.8,"v":0.04},{"t":24.6,"v":0.05},{"t":25.4,"v":0.02},{"t":26.2,"v":-0.03},{"t":27,"v":-0.04},{"t":27.8,"v":-0.05},{"t":28.6,"v":-0.03},{"t":29.3,"v":-0.1},{"t":29.8,"v":0.01},{"t":30.6,"v":0.04},{"t":31.4,"v":0.02},{"t":32.2,"v":0.04},{"t":33,"v":0.01},{"t":33.5,"v":0}],
    "e_x": [{"t":3,"v":-0.08},{"t":3.8,"v":-0.4},{"t":4.5,"v":-0.64},{"t":5.3,"v":-0.6},{"t":6.2,"v":-0.64},{"t":6.9,"v":-0.56},{"t":7.3,"v":-0.77},{"t":7.7,"v":-0.8},{"t":8.3,"v":-0.48},{"t":9,"v":-0.13},{"t":10,"v":0.08},{"t":11,"v":0.56},{"t":11.8,"v":0.8},{"t":12.5,"v":0.64},{"t":14,"v":0.08},{"t":15,"v":-0.32},{"t":16,"v":-0.61},{"t":16.7,"v":-0.72},{"t":17.5,"v":-0.56},{"t":18.5,"v":-0.16},{"t":19.5,"v":0.24},{"t":20.5,"v":0.64},{"t":21.5,"v":0.62},{"t":22,"v":0.72},{"t":23,"v":0.64},{"t":24,"v":0.6},{"t":25,"v":0.51},{"t":26,"v":0.56},{"t":26.8,"v":0.6},{"t":27.3,"v":0.77},{"t":27.8,"v":0.48},{"t":28.5,"v":0.24},{"t":29.2,"v":0},{"t":30.3,"v":-0.03},{"t":31,"v":-0.13},{"t":32,"v":-0.48},{"t":33,"v":-0.77},{"t":33.8,"v":-0.56},{"t":35,"v":-0.16},{"t":36,"v":0.24},{"t":37,"v":0.56},{"t":37.7,"v":0.72},{"t":38.3,"v":0.62},{"t":38.7,"v":0.72},{"t":39.3,"v":0.4},{"t":40,"v":0.24},{"t":40.6,"v":0.08},{"t":41,"v":-0.08}],
    "e_y": [{"t":3,"v":-0.02},{"t":3.8,"v":0},{"t":4.6,"v":-0.03},{"t":5.4,"v":0.01},{"t":6.2,"v":-0.02},{"t":7,"v":0},{"t":7.6,"v":-0.03},{"t":8.3,"v":0.06},{"t":9,"v":-0.02},{"t":9.8,"v":-0.03},{"t":10.5,"v":0.01},{"t":11,"v":0.07},{"t":11.3,"v":-0.06},{"t":12,"v":0},{"t":12.8,"v":-0.02},{"t":13.6,"v":0.01},{"t":14.4,"v":-0.02},{"t":15.2,"v":0.02},{"t":16,"v":-0.02},{"t":16.8,"v":0},{"t":17.6,"v":-0.03},{"t":18.4,"v":0.01},{"t":19.2,"v":-0.02},{"t":20,"v":0.02},{"t":20.8,"v":-0.01},{"t":21.6,"v":0.01},{"t":22.4,"v":-0.02},{"t":23.2,"v":0},{"t":24,"v":-0.02},{"t":24.8,"v":0.02},{"t":25.6,"v":-0.02},{"t":26.4,"v":0.03},{"t":27.2,"v":-0.02},{"t":28,"v":0.01},{"t":28.8,"v":-0.02},{"t":29.6,"v":0.03},{"t":30.4,"v":-0.01},{"t":31.2,"v":0.02},{"t":31.7,"v":-0.08},{"t":32.2,"v":0.02},{"t":33,"v":-0.02},{"t":34,"v":0.07},{"t":34.6,"v":-0.03},{"t":35.4,"v":0},{"t":36.2,"v":-0.03},{"t":37,"v":0.02},{"t":37.8,"v":-0.02},{"t":38.6,"v":0.03},{"t":39.4,"v":-0.02},{"t":40.2,"v":0.01},{"t":41,"v":-0.02}],
    "e_z": [{"t":3,"v":0},{"t":3.8,"v":-0.03},{"t":4.6,"v":-0.05},{"t":5.4,"v":-0.04},{"t":6.2,"v":-0.05},{"t":7,"v":-0.03},{"t":7.8,"v":-0.04},{"t":8.6,"v":-0.02},{"t":9.4,"v":0},{"t":10.2,"v":0.02},{"t":11,"v":0.05},{"t":11.8,"v":0.04},{"t":12.6,"v":0.03},{"t":13.4,"v":0.02},{"t":14.2,"v":0},{"t":15,"v":-0.03},{"t":15.8,"v":-0.05},{"t":16.2,"v":-0.1},{"t":16.8,"v":-0.03},{"t":17.6,"v":-0.02},{"t":18.4,"v":0},{"t":19.2,"v":0.02},{"t":20,"v":0.03},{"t":20.8,"v":0.02},{"t":21.6,"v":0.04},{"t":22.4,"v":0.03},{"t":23.2,"v":0.05},{"t":24,"v":0.04},{"t":24.8,"v":0.05},{"t":25.6,"v":0.03},{"t":26.4,"v":0.05},{"t":27.2,"v":0.03},{"t":28,"v":0.02},{"t":28.8,"v":0},{"t":29.6,"v":-0.02},{"t":30.4,"v":-0.03},{"t":31.2,"v":-0.04},{"t":32,"v":-0.03},{"t":32.5,"v":-0.08},{"t":33.2,"v":-0.03},{"t":34,"v":-0.02},{"t":34.8,"v":-0.01},{"t":35.6,"v":0.02},{"t":36.4,"v":0.04},{"t":37.2,"v":0.03},{"t":38,"v":0.05},{"t":38.8,"v":0.03},{"t":39.6,"v":0.02},{"t":40.4,"v":0.03},{"t":41,"v":0}],
    "f_x": [{"t":3,"v":-0.2},{"t":3.8,"v":-0.48},{"t":4.6,"v":-0.69},{"t":5.5,"v":-0.72},{"t":5.9,"v":-0.85},{"t":6.5,"v":-0.67},{"t":7.2,"v":-0.77},{"t":7.9,"v":-0.56},{"t":8.7,"v":-0.16},{"t":9.5,"v":0.24},{"t":10.5,"v":0.56},{"t":11,"v":0.72},{"t":11.5,"v":0.64},{"t":12,"v":0.77},{"t":12.8,"v":0.67},{"t":13.5,"v":0.4},{"t":14.5,"v":-0.08},{"t":15.5,"v":-0.48},{"t":16.5,"v":-0.56},{"t":17.3,"v":-0.56},{"t":18,"v":-0.61},{"t":18.6,"v":-0.77},{"t":19.3,"v":-0.24},{"t":20,"v":0},{"t":21,"v":0.4},{"t":22,"v":0.72},{"t":22.7,"v":0.83},{"t":23.3,"v":0.8},{"t":23.6,"v":0.85},{"t":24.3,"v":0.64},{"t":24.8,"v":0.45},{"t":25.5,"v":0.61},{"t":26.2,"v":0.8},{"t":26.8,"v":0.64},{"t":27.5,"v":0.48},{"t":28.3,"v":0.61},{"t":29,"v":0.64},{"t":29.8,"v":0.4},{"t":30.7,"v":0.03},{"t":31.5,"v":-0.32},{"t":32.2,"v":-0.35},{"t":33,"v":-0.45},{"t":33.8,"v":-0.61},{"t":34.3,"v":-0.72},{"t":35,"v":-0.48},{"t":35.8,"v":-0.08},{"t":36.7,"v":0.4},{"t":37.5,"v":0.67},{"t":38.2,"v":0.64},{"t":38.8,"v":0.72},{"t":39.5,"v":0.35},{"t":40.2,"v":0.16},{"t":41,"v":-0.03}],
    "f_y": [{"t":3,"v":-0.02},{"t":3.8,"v":0},{"t":4.6,"v":-0.03},{"t":5.4,"v":0.01},{"t":6.2,"v":-0.02},{"t":7,"v":0.02},{"t":7.8,"v":-0.02},{"t":8.6,"v":0},{"t":9.4,"v":-0.03},{"t":10.2,"v":0.01},{"t":11,"v":0.02},{"t":11.8,"v":-0.02},{"t":12.6,"v":0.01},{"t":13.4,"v":-0.02},{"t":14.2,"v":0.02},{"t":15,"v":-0.03},{"t":15.8,"v":0},{"t":16.3,"v":-0.07},{"t":17,"v":0.02},{"t":17.8,"v":-0.02},{"t":18.6,"v":0.01},{"t":19.4,"v":-0.02},{"t":20.2,"v":0.02},{"t":21,"v":-0.03},{"t":21.8,"v":0.01},{"t":22.6,"v":-0.02},{"t":23.4,"v":0.02},{"t":24.2,"v":-0.02},{"t":25,"v":0.01},{"t":25.8,"v":-0.03},{"t":26.6,"v":0.02},{"t":27.4,"v":-0.02},{"t":28.2,"v":0},{"t":29,"v":-0.03},{"t":29.8,"v":0.02},{"t":30.6,"v":-0.02},{"t":31.4,"v":0.01},{"t":32.2,"v":-0.03},{"t":33,"v":0},{"t":33.8,"v":0.04},{"t":34.6,"v":-0.02},{"t":35.4,"v":0.01},{"t":36.2,"v":-0.02},{"t":37,"v":0.02},{"t":37.8,"v":-0.01},{"t":38.6,"v":0.02},{"t":39.4,"v":-0.02},{"t":40.2,"v":0.02},{"t":41,"v":0}],
    "f_z": [{"t":3,"v":0},{"t":3.8,"v":-0.03},{"t":4.6,"v":-0.05},{"t":5.4,"v":-0.04},{"t":6.2,"v":-0.05},{"t":7,"v":-0.03},{"t":7.8,"v":-0.04},{"t":8.6,"v":-0.02},{"t":9.4,"v":0},{"t":10.2,"v":0.02},{"t":11,"v":0.03},{"t":11.8,"v":0.04},{"t":12.6,"v":0.05},{"t":13.4,"v":0.03},{"t":14.2,"v":0.01},{"t":15,"v":-0.02},{"t":15.8,"v":-0.04},{"t":16.6,"v":-0.05},{"t":17.4,"v":-0.04},{"t":18.2,"v":-0.05},{"t":19,"v":-0.03},{"t":19.8,"v":-0.02},{"t":20.6,"v":0},{"t":21.4,"v":0.02},{"t":22.2,"v":0.04},{"t":23,"v":0.05},{"t":23.8,"v":0.07},{"t":24.6,"v":0.05},{"t":25.4,"v":0.06},{"t":26.2,"v":0.04},{"t":27,"v":0.05},{"t":27.8,"v":0.03},{"t":28.6,"v":0.04},{"t":29.4,"v":0.02},{"t":30.2,"v":0},{"t":31,"v":-0.02},{"t":31.8,"v":-0.04},{"t":32.6,"v":-0.05},{"t":33.4,"v":-0.04},{"t":34.2,"v":-0.05},{"t":35,"v":-0.03},{"t":35.8,"v":-0.01},{"t":36.6,"v":0.02},{"t":37.4,"v":0.03},{"t":38.2,"v":0.04},{"t":39,"v":0.02},{"t":39.8,"v":0.03},{"t":40.6,"v":0.01},{"t":41,"v":0}]
  },
  "config": {
    "font": "DejaVu Sans",
    "view": {"stroke": "black", "strokeWidth": 1},
    "mark": {"color": "#1f77b4"},
    "axis": {"grid": false, "domain": false, "ticks": true, "format": "d", "tickColor": "black", "tickSize": 5, "tickWidth": 1, "labelFont": "DejaVu Sans", "labelFontSize": 14.5, "labelColor": "black", "titleFont": "DejaVu Sans", "titleFontSize": 14.5, "titleFontWeight": "normal", "titleColor": "black"},
    "axisX": {"labelBaseline": "alphabetic", "labelPadding": 14, "labelFlush": false, "titleBaseline": "alphabetic", "titleY": 41.5},
    "axisY": {"labelPadding": 5, "labelBaseline": "middle", "titleAngle": -90, "titleAlign": "center", "titleBaseline": "alphabetic"},
    "title": {"font": "DejaVu Sans", "fontSize": 17.8, "fontWeight": "normal", "color": "black", "baseline": "alphabetic", "offset": -4.7, "frame": "group"}
  }
}
